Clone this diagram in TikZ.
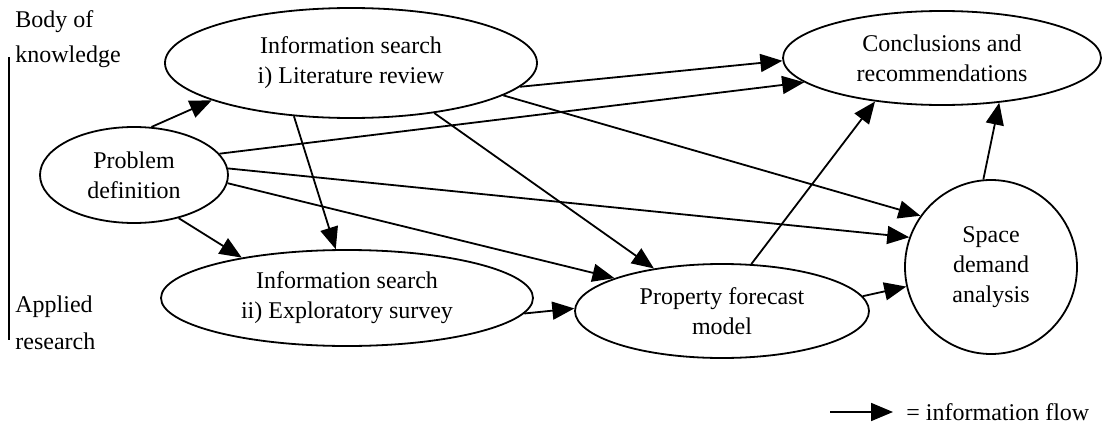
\documentclass[tikz,border=0pt]{standalone}
\usepackage{fontspec}
\setmainfont{Liberation Serif}
\usetikzlibrary{shapes.geometric,arrows.meta}
\begin{document}
\begin{tikzpicture}[x=0.5pt,y=-0.5pt,
  stage/.style={draw, ellipse, inner sep=0pt, align=center,
    font=\fontsize{12}{15}\selectfont, line width=0.9pt},
  flow/.style={-{Triangle[length=11pt,width=9pt]}, line width=0.9pt},
  side/.style={anchor=west, inner sep=0pt, font=\fontsize{12}{15}\selectfont}]
\useasboundingbox (0,0) rectangle (1104,423);

% research stages
\node[stage, minimum width=186pt, minimum height=55pt] (lit)   at (351,63)  {Information search\\i) Literature review};
\node[stage, minimum width=94pt,  minimum height=48pt] (prob)  at (134,175) {Problem\\definition};
\node[stage, minimum width=186pt, minimum height=48pt] (surv)  at (347,298) {Information search\\ii) Exploratory survey};
\node[stage, minimum width=147pt, minimum height=47pt] (fore)  at (722,311) {Property forecast\\model};
\node[stage, minimum width=86pt,  minimum height=87pt] (space) at (991,267) {Space\\demand\\analysis};
\node[stage, minimum width=159pt, minimum height=47pt] (concl) at (942,58)  {Conclusions and\\recommendations};

% information flows
\draw[flow] (prob.70)  -- (lit.195);
\draw[flow] (prob.14)  -- (concl.190);
\draw[flow] (lit.352)  -- (concl.181);
\draw[flow] (lit.348)  -- (space.144);
\draw[flow] (lit.329)  -- (fore.148);
\draw[flow] (lit.223)  -- (surv.103);
\draw[flow] (prob.4)   -- (space.160);
\draw[flow] (prob.355) -- (fore.163);
\draw[flow] (prob.316) -- (surv.159);
\draw[flow] (surv.355) -- (fore.179);
\draw[flow] (fore.58)  -- (concl.213);
\draw[flow] (fore.6)   -- (space.193);
\draw[flow] (space.95) -- (concl.322);

% axis between the two kinds of research
\node[side] (body) at (15,22) {Body of};
\node[side] (know) at (15,57) {knowledge};
\node[side] (appl) at (15,307) {Applied};
\node[side] (res)  at (15,341) {research};
\draw[line width=0.8pt] (9,57) -- (9,340);

% key
\coordinate (keyA) at (830,412);
\coordinate (keyB) at (893,412);
\draw[flow] (keyA) -- (keyB);
\node[anchor=west, inner sep=0pt, font=\fontsize{12}{15}\selectfont] (keytext) at (906,412) {= information flow};
\end{tikzpicture}
\end{document}
